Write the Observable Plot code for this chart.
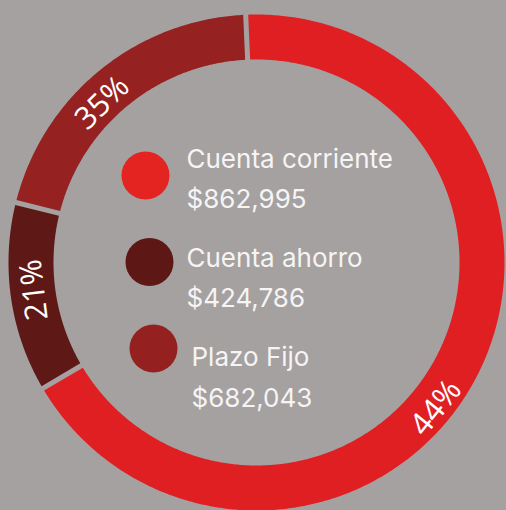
<!DOCTYPE html>
<html>
<head>
<meta charset="utf-8">
<script src="https://cdn.jsdelivr.net/npm/d3@7"></script>
<script src="https://cdn.jsdelivr.net/npm/@observablehq/plot@0.6"></script>
<style>
  html, body { margin: 0; padding: 0; background: #a5a1a0; }
  #chart svg { display: block; }
</style>
</head>
<body>
<div id="chart"></div>
<script>
// ---- data ----
const categories = ["Cuenta corriente", "Cuenta ahorro", "Plazo Fijo"];
const amountLabels = ["$862,995", "$424,786", "$682,043"];
const amounts = [862995, 424786, 682043];
const percentLabels = ["44%", "21%", "35%"];
// arc extents as drawn in the reference (degrees, clockwise from 12 o'clock)
const arcStart = [-2.5, 239.5, 284];
const arcEnd = [239.5, 284, 357.5];
// angle where each percent label sits (degrees, clockwise from 12 o'clock)
const labelAngle = [129, 263, 316];
const ringColors = ["#e01f23", "#5e1815", "#952121"];
const legendColors = ["#e42420", "#5d1714", "#94211f"];

// ---- layout ----
const W = 506, H = 510;
const CX = 256, CY = 262;
const R_OUT = 248, R_IN = 203, GAP = 5;
const labelRadius = [231, 224, 222];
const BG = "#a5a1a0";

const rad = d => d * Math.PI / 180;

function ringPoints(i) {
  const outer = [], inner = [];
  for (const [r, arr] of [[R_OUT, outer], [R_IN, inner]]) {
    const pad = (GAP / 2) / r * 180 / Math.PI;
    const s = arcStart[i] + pad, e = arcEnd[i] - pad;
    const n = Math.ceil((e - s) / 0.5);
    for (let k = 0; k <= n; k++) {
      const a = rad(s + (e - s) * k / n);
      arr.push({x: r * Math.sin(a), y: -r * Math.cos(a), cat: categories[i]});
    }
  }
  return outer.concat(inner.reverse());
}

const ringMarks = categories.map((c, i) =>
  Plot.line(ringPoints(i), {x: "x", y: "y", fill: ringColors[i], stroke: "none", curve: "linear-closed"})
);

const pctData = percentLabels.map((t, i) => {
  const a = labelAngle[i];
  return {
    text: t,
    x: labelRadius[i] * Math.sin(rad(a)),
    y: -labelRadius[i] * Math.cos(rad(a)),
    rotate: a <= 180 ? a - 180 : a - 360
  };
});

const legendRows = categories.map((c, i) => ({
  name: c,
  amount: amountLabels[i],
  color: legendColors[i],
  cx: 145 + 4 * i - CX,
  cy: 175 + 86.5 * i - CY,
  tx: (i < 2 ? 186 : 191) - CX,
  ty1: 167 + 99 * i - CY,
  ty2: 207 + 99.5 * i - CY
}));

const chart = Plot.plot({
  width: W,
  height: H,
  margin: 0,
  x: {domain: [-CX, W - CX], range: [0, W], axis: null},
  y: {domain: [-CY, H - CY], range: [0, H], axis: null},
  color: {type: "identity"},
  style: {background: BG, overflow: "hidden"},
  marks: [
    ...ringMarks,
    Plot.text(pctData, {
      x: "x", y: "y", text: "text", rotate: "rotate",
      fill: "white", fontSize: 31, fontFamily: "Open Sans",
      textAnchor: "middle", lineAnchor: "middle"
    }),
    Plot.dot(legendRows, {x: "cx", y: "cy", r: 24, fill: "color", stroke: "none"}),
    Plot.text(legendRows, {
      x: "tx", y: "ty1", text: "name", textAnchor: "start", lineAnchor: "bottom",
      fill: "#f6f4f4", fontSize: 26, fontFamily: "Inter"
    }),
    Plot.text(legendRows, {
      x: "tx", y: "ty2", text: "amount", textAnchor: "start", lineAnchor: "bottom",
      fill: "#f6f4f4", fontSize: 26, fontFamily: "Inter"
    })
  ]
});

document.getElementById("chart").append(chart);
</script>
</body>
</html>
